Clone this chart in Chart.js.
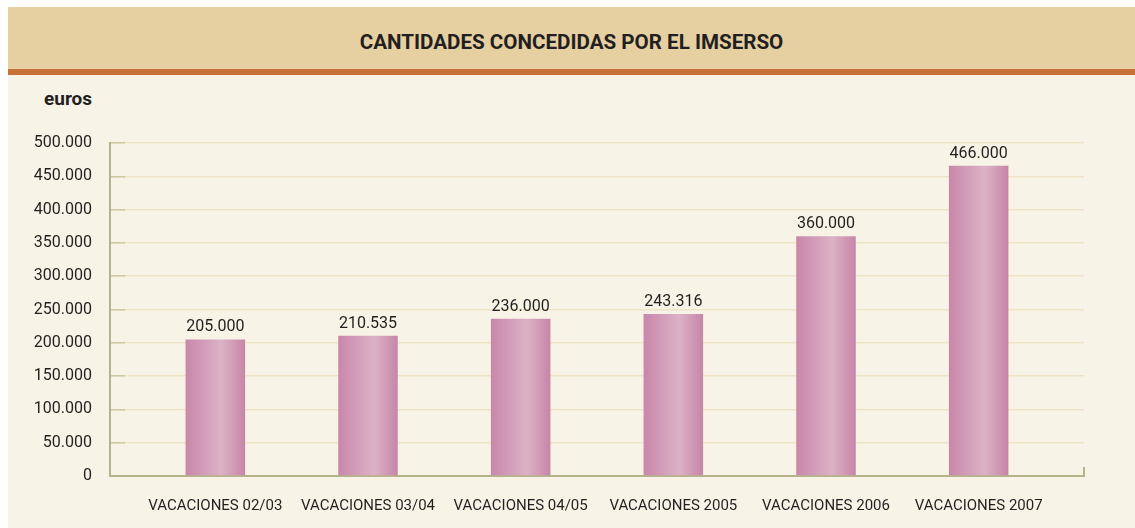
<!DOCTYPE html>
<html>
<head>
<meta charset="utf-8">
<script src="https://cdn.jsdelivr.net/npm/chart.js@4/dist/chart.umd.min.js"></script>
<style>
  body { margin: 0; background: #fff; width: 1135px; height: 528px; overflow: hidden; }
  #panel { position: absolute; left: 8px; top: 7px; width: 1127px; height: 521px; background: #f7f4e7; }
  #title {
    height: 62px; background: #e6cfa0; border-bottom: 6px solid #c87137;
    text-align: center; font: bold 20.6px Roboto, sans-serif; line-height: 70px;
    color: #231f20;
  }
  #unit { position: absolute; left: 36px; top: 80px; font: bold 19px Roboto, sans-serif; color: #231f20; }
  #wrap { position: absolute; left: 0; top: 68px; width: 1127px; height: 453px; }
</style>
</head>
<body>
<div id="panel">
  <div id="title">CANTIDADES CONCEDIDAS POR EL IMSERSO</div>
  <div id="unit">euros</div>
  <div id="wrap"><canvas id="myChart" width="1127" height="453"></canvas></div>
</div>
<script>
const categories = ['VACACIONES 02/03', 'VACACIONES 03/04', 'VACACIONES 04/05', 'VACACIONES 2005', 'VACACIONES 2006', 'VACACIONES 2007'];
const amounts = [205000, 210535, 236000, 243316, 360000, 466000];
const yMax = 500000;
const yStep = 50000;

// bars sit with a wider margin at both ends than a plain category axis gives,
// so the x axis is linear over the category index
const xPad = 0.69;
const barPct = 0.39;
const font = 'Roboto, sans-serif';

function fmt(v) {
    return String(v).replace(/\B(?=(\d{3})+(?!\d))/g, '.');
}

function barFill(context) {
    const chart = context.chart;
    const xs = chart.scales.x;
    if (!chart.chartArea || !xs) return '#cf93b3';
    const cx = xs.getPixelForValue(context.dataIndex);
    const half = (xs.getPixelForValue(1) - xs.getPixelForValue(0)) * barPct / 2;
    const g = chart.ctx.createLinearGradient(cx - half, 0, cx + half, 0);
    g.addColorStop(0, '#c987aa');
    g.addColorStop(0.3, '#d29cb9');
    g.addColorStop(0.6, '#dcb2c6');
    g.addColorStop(1, '#c785a8');
    return g;
}

// value labels on top of the bars + small end tick on the x axis
const extras = {
    id: 'extras',
    afterDatasetsDraw(chart) {
        const ctx = chart.ctx;
        ctx.save();
        ctx.fillStyle = '#231f20';
        ctx.font = '16px ' + font;
        ctx.textAlign = 'center';
        ctx.textBaseline = 'bottom';
        chart.getDatasetMeta(0).data.forEach((bar, i) => {
            ctx.fillText(fmt(amounts[i]), bar.x, bar.y - 4);
        });
        const a = chart.chartArea;
        ctx.strokeStyle = '#b5b38a';
        ctx.lineWidth = 2;
        ctx.beginPath();
        ctx.moveTo(a.right, a.bottom);
        ctx.lineTo(a.right, a.bottom - 9);
        ctx.stroke();
        ctx.restore();
    }
};

const data = {
    labels: categories,
    datasets: [{
        data: amounts.map((v, i) => ({ x: i, y: v })),
        backgroundColor: barFill,
        borderWidth: 0,
        barPercentage: barPct,
        categoryPercentage: 1
    }]
};

const config = {
    type: 'bar',
    data: data,
    options: {
        responsive: false,
        animation: false,
        layout: { padding: { top: 68, right: 51, left: 0, bottom: 0 } },
        plugins: { legend: { display: false }, tooltip: { enabled: false } },
        scales: {
            x: {
                type: 'linear',
                offset: false,
                min: -xPad,
                max: categories.length - 1 + xPad,
                grid: { display: false, drawTicks: false },
                border: { color: '#b5b38a', width: 2 },
                ticks: {
                    stepSize: 1, includeBounds: false, autoSkip: false, maxRotation: 0,
                    color: '#231f20', font: { family: font, size: 15 }, padding: 21,
                    callback: v => Number.isInteger(v) ? categories[v] : ''
                },
                afterFit: s => { s.height = 52; }
            },
            y: {
                min: 0,
                max: yMax,
                grid: { color: '#efe3c6', lineWidth: 1.5, tickColor: '#cdc9a2', tickLength: -15 },
                border: { color: '#b5b38a', width: 2 },
                ticks: { stepSize: yStep, color: '#231f20', font: { family: font, size: 16 }, padding: 33,
                    callback: v => fmt(v) },
                afterFit: s => { s.width = 102; }
            }
        }
    },
    plugins: [extras]
};

const myChart = new Chart(document.getElementById('myChart').getContext('2d'), config);
</script>
</body>
</html>
